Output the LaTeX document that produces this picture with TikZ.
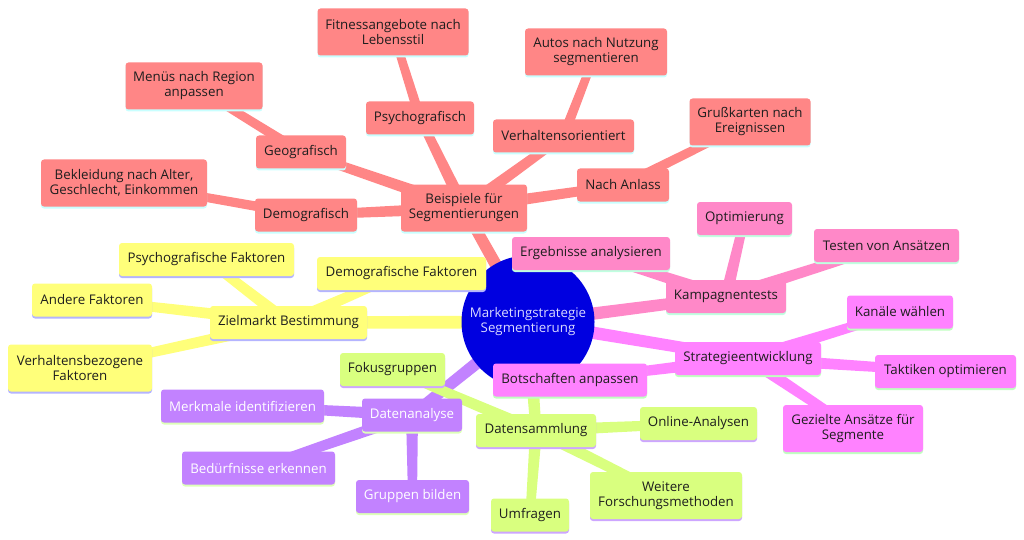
\documentclass[tikz,border=0pt]{standalone}
\usepackage{fontspec}
\setmainfont{Open Sans}
\usetikzlibrary{calc,shadows}
\definecolor{cR}{HTML}{FF8686}
\definecolor{aR}{HTML}{C8FFFF}
\definecolor{cY}{HTML}{FFFF7A}
\definecolor{aY}{HTML}{B4B4FF}
\definecolor{cG}{HTML}{D9FF7F}
\definecolor{aG}{HTML}{CDA6FF}
\definecolor{cP}{HTML}{C282FF}
\definecolor{aP}{HTML}{DDFFB8}
\definecolor{cK}{HTML}{FF88C8}
\definecolor{aK}{HTML}{C0FFE0}
\definecolor{cM}{HTML}{FF82FF}
\definecolor{aM}{HTML}{C0FFC0}
\definecolor{cC}{HTML}{0000E0}
\definecolor{txt}{HTML}{1E1E1E}
\pgfdeclarelayer{bg}
\pgfsetlayers{bg,main}
\newcommand{\tedge}[5]{\fill[#1] ($(#2)!#4!90:(#3)$) -- ($(#3)!#5!-90:(#2)$) -- ($(#3)!#5!90:(#2)$) -- ($(#2)!#4!-90:(#3)$) -- cycle;}
\tikzset{
  box/.style={rectangle, rounded corners=3pt, inner xsep=2pt, inner ysep=2pt, align=center,
    font=\fontsize{13.3}{15}\selectfont, text=txt, minimum height=33pt},
  rbox/.style={box, fill=cR, general shadow={fill=aR, shadow yshift=-2pt}},
  ybox/.style={box, fill=cY, general shadow={fill=aY, shadow yshift=-2pt}},
  gbox/.style={box, fill=cG, general shadow={fill=aG, shadow yshift=-2pt}},
  pbox/.style={box, fill=cP, text=white, general shadow={fill=aP, shadow yshift=-2pt}},
  kbox/.style={box, fill=cK, general shadow={fill=aK, shadow yshift=-2pt}},
  mbox/.style={box, fill=cM, general shadow={fill=aM, shadow yshift=-2pt}},
  two/.style={minimum height=47pt},
}
\begin{document}
\begin{tikzpicture}[x=1pt,y=-1pt]
\useasboundingbox (0,0) rectangle (1024,540);
% center
\node[circle, fill=cC, minimum size=133pt, inner sep=0pt, align=center, text=white!85!blue,
  font=\fontsize{13.3}{15}\selectfont] (c) at (528,322) {Marketingstrategie\\Segmentierung};
% red group
\node[rbox, two, minimum width=126pt] (bsp) at (464,208) {Beispiele für\\Segmentierungen};
\node[rbox, minimum width=102pt] (demo) at (306,215) {Demografisch};
\node[rbox, minimum width=90pt] (geo) at (301,152) {Geografisch};
\node[rbox, minimum width=108pt] (psy) at (420,118) {Psychografisch};
\node[rbox, minimum width=141pt] (verh) at (563.5,136) {Verhaltensorientiert};
\node[rbox, minimum width=92pt] (anl) at (623,185) {Nach Anlass};
\node[rbox, two, minimum width=166pt] (bekl) at (124,183) {Bekleidung nach Alter,\\Geschlecht, Einkommen};
\node[rbox, two, minimum width=137pt] (menu) at (194,86) {Menüs nach Region\\anpassen};
\node[rbox, two, minimum width=151pt] (fit) at (393,32) {Fitnessangebote nach\\Lebensstil};
\node[rbox, two, minimum width=142pt] (auto) at (596,52) {Autos nach Nutzung\\segmentieren};
\node[rbox, two, minimum width=121pt] (gruss) at (750,122) {Grußkarten nach\\Ereignissen};
% yellow group
\node[ybox, minimum width=157pt] (ziel) at (288.5,322.5) {Zielmarkt Bestimmung};
\node[ybox, minimum width=175pt] (psyf) at (206.5,259.5) {Psychografische Faktoren};
\node[ybox, minimum width=169pt] (demf) at (401.5,273.5) {Demografische Faktoren};
\node[ybox, minimum width=120pt] (and) at (92,300) {Andere Faktoren};
\node[ybox, two, minimum width=144pt] (verf) at (80,368) {Verhaltensbezogene\\Faktoren};
% green group
\node[gbox, minimum width=120pt] (dsam) at (536,430.5) {Datensammlung};
\node[gbox, minimum width=105pt] (foku) at (392.5,369.5) {Fokusgruppen};
\node[gbox, minimum width=117pt] (onl) at (698.5,423.5) {Online-Analysen};
\node[gbox, minimum width=78pt] (umf) at (530,515) {Umfragen};
\node[gbox, two, minimum width=152pt] (weit) at (666,495.5) {Weitere\\Forschungsmethoden};
% purple group
\node[pbox, minimum width=100pt] (dana) at (412,415) {Datenanalyse};
\node[pbox, minimum width=163pt] (merk) at (242.5,406) {Merkmale identifizieren};
\node[pbox, minimum width=153pt] (bed) at (258.5,468) {Bedürfnisse erkennen};
\node[pbox, minimum width=113pt] (grp) at (412.5,496.5) {Gruppen bilden};
% pink group
\node[kbox, minimum width=120pt] (kamp) at (726,296.5) {Kampagnentests};
\node[kbox, minimum width=158pt] (erg) at (591,253.5) {Ergebnisse analysieren};
\node[kbox, minimum width=95pt] (opt) at (744.5,218.5) {Optimierung};
\node[kbox, minimum width=145pt] (test) at (886.5,245.5) {Testen von Ansätzen};
% magenta group
\node[mbox, minimum width=146pt] (strat) at (748,358.5) {Strategieentwicklung};
\node[mbox, minimum width=106pt] (kan) at (900,312) {Kanäle wählen};
\node[mbox, minimum width=141pt] (takt) at (945.5,371.5) {Taktiken optimieren};
\node[mbox, two, minimum width=140pt] (gez) at (853,428.5) {Gezielte Ansätze für\\Segmente};
\node[mbox, minimum width=154pt] (bot) at (570,380) {Botschaften anpassen};
% connectors
\begin{pgfonlayer}{bg}
\tedge{cR}{c}{bsp}{6.5pt}{5.5pt}
\tedge{cY}{c}{ziel}{6.5pt}{6pt}
\tedge{cG}{c}{dsam}{6.5pt}{5.5pt}
\tedge{cP}{c}{dana}{6.5pt}{5.5pt}
\tedge{cK}{c}{kamp}{6.5pt}{5.5pt}
\tedge{cM}{c}{strat}{6.5pt}{5.5pt}
\tedge{cR}{bsp}{demo}{6pt}{4.5pt}
\tedge{cR}{bsp}{geo}{6pt}{4.5pt}
\tedge{cR}{bsp}{psy}{6pt}{4.5pt}
\tedge{cR}{bsp}{verh}{6pt}{4.5pt}
\tedge{cR}{bsp}{anl}{6pt}{4.5pt}
\tedge{cR}{demo}{bekl}{5pt}{4pt}
\tedge{cR}{geo}{menu}{5pt}{4pt}
\tedge{cR}{psy}{fit}{5pt}{4pt}
\tedge{cR}{verh}{auto}{5pt}{4pt}
\tedge{cR}{anl}{gruss}{5pt}{4pt}
\tedge{cY}{ziel}{psyf}{6pt}{4.5pt}
\tedge{cY}{ziel}{demf}{6pt}{4.5pt}
\tedge{cY}{ziel}{and}{6pt}{4.5pt}
\tedge{cY}{ziel}{verf}{6pt}{4.5pt}
\tedge{cG}{dsam}{foku}{6pt}{4.5pt}
\tedge{cG}{dsam}{onl}{6pt}{4.5pt}
\tedge{cG}{dsam}{umf}{6pt}{4.5pt}
\tedge{cG}{dsam}{weit}{6pt}{4.5pt}
\tedge{cP}{dana}{merk}{6pt}{4.5pt}
\tedge{cP}{dana}{bed}{6pt}{4.5pt}
\tedge{cP}{dana}{grp}{6pt}{4.5pt}
\tedge{cK}{kamp}{erg}{6pt}{4.5pt}
\tedge{cK}{kamp}{opt}{6pt}{4.5pt}
\tedge{cK}{kamp}{test}{6pt}{4.5pt}
\tedge{cM}{strat}{kan}{6pt}{4.5pt}
\tedge{cM}{strat}{takt}{6pt}{4.5pt}
\tedge{cM}{strat}{gez}{6pt}{4.5pt}
\tedge{cM}{strat}{bot}{6pt}{4.5pt}
\end{pgfonlayer}
\end{tikzpicture}
\end{document}
